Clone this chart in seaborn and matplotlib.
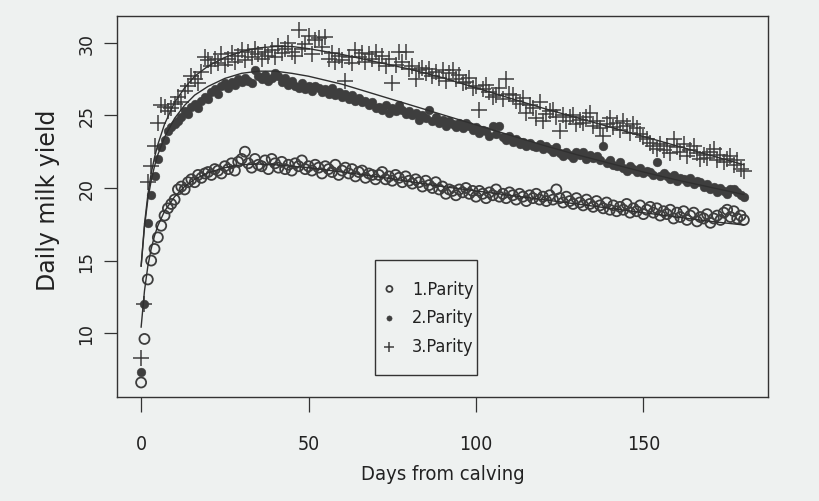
import numpy as np
import pandas as pd
import matplotlib
matplotlib.use("Agg")
import matplotlib.pyplot as plt
from matplotlib import font_manager as fm
from matplotlib.patches import Rectangle
import seaborn as sns

# ---------------- data ----------------
days = list(range(0, 181))

parity1 = [
    6.6, 9.6, 13.7, 15.0, 15.8, 16.6, 17.4, 18.1, 18.6, 18.9, 19.2,
    19.9, 20.1, 19.9, 20.4, 20.6, 20.4, 20.9, 20.7, 21.0, 21.1,
    20.9, 21.3, 21.2, 21.0, 21.5, 21.3, 21.7, 21.2, 21.8, 22.0,
    22.5, 21.7, 21.4, 22.0, 21.6, 21.5, 21.9, 21.3, 22.0, 21.7,
    21.4, 21.8, 21.3, 21.6, 21.2, 21.7, 21.5, 21.9, 21.3, 21.5,
    21.2, 21.6, 21.4, 21.0, 21.5, 21.3, 21.1, 21.6, 20.9, 21.2,
    21.4, 21.0, 21.3, 20.8, 21.1, 21.2, 20.7, 21.0, 20.9, 20.6,
    20.9, 21.1, 20.6, 20.8, 20.5, 20.9, 20.7, 20.4, 20.8, 20.5,
    20.3, 20.6, 20.4, 20.1, 20.5, 20.2, 20.0, 20.4, 19.9, 20.1,
    19.6, 19.9, 19.8, 19.5, 19.9, 19.7, 20.0, 19.6, 19.8, 19.4,
    19.8, 19.6, 19.3, 19.7, 19.5, 19.9, 19.4, 19.6, 19.3, 19.7,
    19.5, 19.2, 19.6, 19.4, 19.1, 19.5, 19.3, 19.6, 19.2, 19.4,
    19.1, 19.5, 19.2, 19.9, 19.3, 19.0, 19.4, 19.1, 18.9, 19.3,
    19.0, 18.8, 19.2, 18.9, 18.7, 19.1, 18.8, 18.6, 19.0, 18.5,
    18.8, 18.4, 18.7, 18.5, 18.9, 18.3, 18.6, 18.4, 18.8, 18.2,
    18.5, 18.7, 18.3, 18.6, 18.1, 18.4, 18.2, 18.5, 17.9, 18.3,
    18.0, 18.4, 17.8, 18.1, 18.3, 17.7, 18.0, 17.9, 18.2, 17.6,
    17.9, 18.1, 17.8, 18.3, 18.5, 18.0, 18.4, 17.9, 18.1, 17.8,
]

parity2 = [
    7.3, 12.0, 17.6, 19.5, 20.8, 22.0, 22.8, 23.3, 23.9, 24.2, 24.4,
    24.6, 24.9, 25.3, 25.1, 25.6, 25.8, 25.5, 26.0, 26.3, 26.1,
    26.6, 26.8, 26.5, 27.0, 27.2, 26.9, 27.3, 27.1, 27.5, 27.3,
    27.6, 27.4, 27.2, 28.1, 27.7, 27.5, 27.8, 27.4, 27.6, 27.9,
    27.7, 27.3, 27.6, 27.1, 27.4, 27.0, 26.9, 27.2, 26.8, 27.0,
    26.7, 27.0, 26.9, 26.6, 26.8, 26.5, 26.9, 26.4, 26.6, 26.3,
    26.5, 26.1, 26.4, 26.0, 26.2, 25.9, 26.0, 25.7, 25.9, 25.5,
    25.6, 25.4, 25.7, 25.2, 25.5, 25.3, 25.7, 25.4, 25.1, 25.3,
    25.0, 25.2, 24.7, 25.0, 24.8, 25.4, 24.6, 24.9, 24.5, 24.7,
    24.3, 24.6, 24.4, 24.2, 24.5, 24.1, 24.5, 24.3, 24.0, 24.2,
    23.8, 24.0, 23.9, 23.6, 24.3, 23.7, 24.3, 23.5, 23.3, 23.6,
    23.2, 23.4, 23.0, 23.2, 22.9, 23.1, 22.9, 22.8, 23.0, 22.7,
    22.9, 22.7, 22.5, 22.8, 22.4, 22.2, 22.5, 22.3, 22.1, 22.5,
    22.3, 22.5, 22.0, 22.3, 22.1, 22.2, 21.9, 22.9, 21.7, 21.9,
    21.6, 21.5, 21.8, 21.4, 21.2, 21.5, 21.3, 21.1, 21.4, 21.0,
    21.2, 21.1, 20.9, 21.8, 20.8, 21.0, 20.8, 20.6, 20.9, 20.5,
    20.7, 20.6, 20.4, 20.7, 20.3, 20.5, 20.4, 20.1, 20.3, 19.9,
    20.1, 19.7, 20.0, 19.8, 19.6, 19.9, 19.9, 19.7, 19.5, 19.4,
]

parity3 = [
    8.3, 12.0, 20.4, 21.5, 22.9, 24.5, 25.7, 25.6, 25.3, 25.5, 25.8,
    26.3, 25.9, 26.7, 27.0, 27.7, 27.5, 27.2, 28.0, 29.0, 28.8,
    28.4, 28.9, 28.6, 29.2, 28.5, 28.9, 29.3, 28.7, 29.1, 29.5,
    28.8, 29.4, 29.0, 29.6, 29.2, 28.9, 29.4, 29.1, 29.5, 29.0,
    29.8, 29.3, 29.6, 30.0, 29.4, 29.1, 30.9, 29.6, 29.9, 30.5,
    29.2, 30.2, 30.3, 29.7, 30.4, 28.9, 29.3, 28.7, 29.1, 28.8,
    27.4, 29.0, 28.6, 29.5, 29.0, 29.3, 28.7, 29.2, 28.9, 29.4,
    28.6, 29.1, 28.4, 28.9, 27.2, 28.5, 29.4, 28.7, 29.4, 28.2,
    28.4, 27.5, 28.1, 28.3, 27.9, 28.2, 27.7, 28.0, 27.6, 28.1,
    27.4, 27.9, 28.1, 27.5, 27.8, 27.2, 27.3, 27.6, 26.9, 27.0,
    25.4, 26.8, 27.1, 26.6, 26.3, 26.4, 26.9, 26.1, 27.5, 26.5,
    26.4, 26.0, 25.8, 26.2, 25.2, 25.7, 25.5, 24.8, 25.9, 24.6,
    25.1, 25.3, 25.4, 24.9, 23.9, 25.0, 24.6, 24.9, 25.0, 24.4,
    24.7, 24.5, 24.9, 25.2, 24.3, 24.6, 24.1, 23.6, 24.4, 24.8,
    24.2, 24.5, 24.0, 24.6, 24.3, 23.8, 24.4, 24.1, 23.7, 23.5,
    23.4, 23.1, 22.9, 22.7, 23.0, 22.6, 22.9, 22.4, 23.4, 22.8,
    22.5, 23.0, 22.2, 22.6, 22.9, 22.4, 22.0, 22.3, 22.1, 22.5,
    22.7, 21.9, 22.3, 21.8, 22.0, 22.2, 21.6, 21.9, 21.3, 21.2,
]

fit_days = [0, 1, 2, 3, 4, 5, 7, 10, 13, 16, 20, 25, 30, 35, 40, 45, 50,
            60, 70, 80, 90, 100, 110, 120, 130, 140, 150, 160, 170, 180]
fit1 = [10.4, 12.9, 14.6, 15.8, 16.7, 17.4, 18.4, 19.4, 20.1, 20.6, 21.05,
        21.4, 21.6, 21.65, 21.6, 21.5, 21.4, 21.1, 20.8, 20.45, 20.1, 19.8,
        19.5, 19.2, 18.9, 18.6, 18.3, 18.0, 17.7, 17.45]
fit2 = [14.6, 17.3, 19.2, 20.5, 21.5, 22.3, 23.5, 24.8, 25.7, 26.4, 27.0,
        27.55, 27.9, 28.05, 28.05, 27.9, 27.7, 27.15, 26.45, 25.75, 25.05,
        24.35, 23.65, 22.95, 22.3, 21.7, 21.1, 20.55, 20.05, 19.55]
fit3 = [14.6, 17.5, 19.5, 21.0, 22.1, 23.0, 24.4, 25.9, 26.9, 27.7, 28.4,
        29.0, 29.4, 29.65, 29.75, 29.75, 29.6, 29.2, 28.7, 28.2, 27.6, 26.9,
        26.2, 25.5, 24.85, 24.2, 23.55, 22.9, 22.25, 21.6]

labels = ["1.Parity", "2.Parity", "3.Parity"]
x_ticks = [0, 50, 100, 150]
y_ticks = [10, 15, 20, 25, 30]

# ---------------- styling ----------------
BG = "#eef1f0"
INK = "#3e3e3e"
LINE = "#303030"
TXT = "#222222"

sns.set_style("white")
plt.rcParams["font.family"] = ["DejaVu Sans"]

# condensed face for the horizontal texts (the scan is squeezed sideways)
narrow = fm.FontProperties(family=["DejaVu Sans"], stretch="condensed")

fig = plt.figure(figsize=(8.19, 5.02), dpi=100, facecolor=BG)
ax = fig.add_axes([117 / 819, 1 - 398 / 502, 651 / 819, 381 / 502])
ax.set_facecolor(BG)

pts = pd.DataFrame({
    "day": days * 3,
    "yield": parity1 + parity2 + parity3,
    "parity": [labels[0]] * len(days) + [labels[1]] * len(days) + [labels[2]] * len(days),
})
fits = pd.DataFrame({
    "day": fit_days * 3,
    "yield": fit1 + fit2 + fit3,
    "parity": [labels[0]] * len(fit_days) + [labels[1]] * len(fit_days) + [labels[2]] * len(fit_days),
})

d1 = pts[pts.parity == labels[0]]
d2 = pts[pts.parity == labels[1]]
d3 = pts[pts.parity == labels[2]]

sns.scatterplot(data=d1, x="day", y="yield", ax=ax, marker="o", s=52,
                facecolors="none", edgecolor=INK, linewidth=1.3,
                label=labels[0], legend=False, zorder=3)
sns.scatterplot(data=d2, x="day", y="yield", ax=ax, marker="o", s=40,
                color=INK, edgecolor=INK, linewidth=0.3,
                label=labels[1], legend=False, zorder=3)
sns.scatterplot(data=d3, x="day", y="yield", ax=ax, marker="+", s=130,
                color=INK, linewidth=1.1,
                label=labels[2], legend=False, zorder=3)

for lab in labels:
    sub = fits[fits.parity == lab]
    sns.lineplot(data=sub, x="day", y="yield", ax=ax, color=LINE,
                 linewidth=1.0, estimator=None, sort=True, legend=False,
                 zorder=4)

ax.set_xlim(-7.2, 187.2)
ax.set_ylim(5.6, 31.85)
ax.set_xticks(x_ticks)
ax.set_yticks(y_ticks)
ax.set_xticklabels([str(t) for t in x_ticks], fontproperties=narrow,
                   fontsize=14, color=TXT)
ax.set_yticklabels([str(t) for t in y_ticks], rotation=90, va="center",
                   family=["DejaVu Sans"], fontsize=12.5, color=TXT)
ax.tick_params(axis="x", length=11, width=0.9, color="#333333", pad=16,
               direction="out", bottom=True)
ax.tick_params(axis="y", length=9.5, width=0.9, color="#333333", pad=6,
               direction="out", left=True)

for sp in ax.spines.values():
    sp.set_visible(True)
    sp.set_color("#333333")
    sp.set_linewidth(1.0)

ax.set_xlabel("Days from calving", fontproperties=narrow, fontsize=14.5, color=TXT)
ax.set_ylabel("Daily milk yield", family=["DejaVu Sans"], fontsize=17, color=TXT)
ax.xaxis.set_label_coords(0.5, -0.2)
ax.xaxis.label.set_verticalalignment("center")
ax.yaxis.set_label_coords(-0.106, 0.52)
ax.yaxis.label.set_verticalalignment("center")

# legend: frame drawn as a box, entries placed inside it
box = Rectangle(((375 - 117) / 651, (398 - 376) / 381), (477 - 375) / 651,
                (376 - 261) / 381, transform=ax.transAxes, facecolor=BG,
                edgecolor="#333333", linewidth=1.0, zorder=5)
ax.add_patch(box)

legprop = fm.FontProperties(family=["DejaVu Sans"], stretch="condensed", size=13)
handles = ax.collections[:3]
leg = ax.legend(handles, labels, loc="center left",
                bbox_to_anchor=((384 - 117) / 651, (398 - 318.5) / 381),
                prop=legprop, frameon=False,
                handlelength=0.6, handletextpad=0.95, borderpad=0.0,
                labelspacing=0.6, borderaxespad=0.0, markerscale=0.6)
leg.set_zorder(6)
for t in leg.get_texts():
    t.set_color(TXT)

ax.grid(False)
fig.savefig("out.png", dpi=100, facecolor=BG)
